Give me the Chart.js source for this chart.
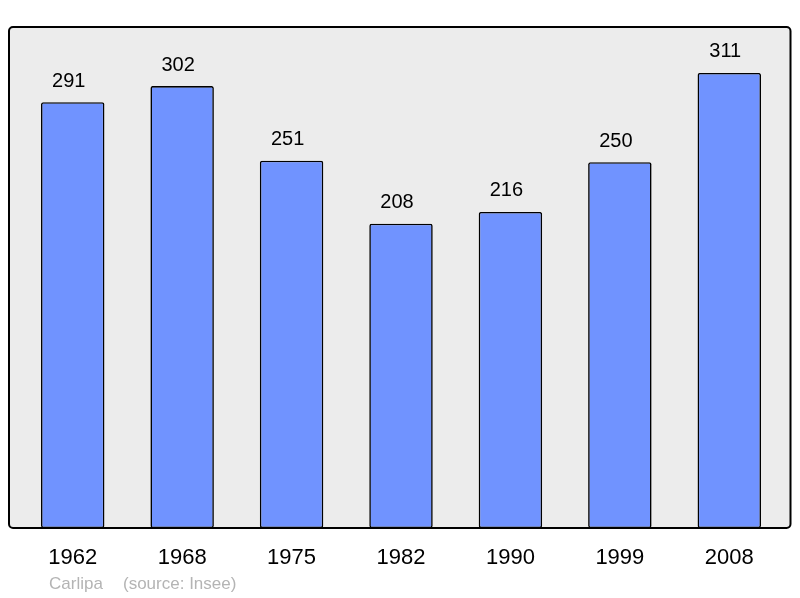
<!DOCTYPE html>
<html>
<head>
<meta charset="utf-8">
<script src="https://cdn.jsdelivr.net/npm/chart.js@4/dist/chart.umd.min.js"></script>
<style>
html,body{margin:0;padding:0;background:#fff;}
#wrap{width:800px;height:598px;position:relative;}
</style>
</head>
<body>
<div id="wrap"><canvas id="c" width="800" height="598"></canvas></div>
<script>
const years = ["1962","1968","1975","1982","1990","1999","2008"];
const population = [291,302,251,208,216,250,311];
const footerName = "Carlipa";
const footerSource = "(source: Insee)";

const frame = {
  id: 'frame',
  beforeDraw(chart) {
    const {ctx, chartArea: a} = chart;
    const l = a.left - 9, r = a.right + 6.5, t = a.top, b = a.bottom;
    ctx.save();
    ctx.beginPath();
    ctx.roundRect(l, t, r - l, b - t, 4);
    ctx.fillStyle = '#ececec';
    ctx.fill();
    ctx.restore();
  },
  afterDatasetsDraw(chart) {
    const {ctx, chartArea: a} = chart;
    const l = a.left - 9, r = a.right + 6.5, t = a.top, b = a.bottom;
    ctx.save();
    ctx.beginPath();
    ctx.roundRect(l, t, r - l, b - t, 4);
    ctx.lineWidth = 2;
    ctx.strokeStyle = '#000';
    ctx.stroke();
    // value labels
    const meta = chart.getDatasetMeta(0);
    ctx.fillStyle = '#000';
    ctx.font = '20px "Liberation Sans", Arial, sans-serif';
    ctx.textAlign = 'center';
    ctx.textBaseline = 'middle';
    meta.data.forEach((bar, i) => {
      ctx.fillText(String(population[i]), bar.x - 4, bar.y - 21);
    });
    // footer
    ctx.fillStyle = '#b4b4b4';
    ctx.font = '17px "Liberation Sans", Arial, sans-serif';
    ctx.textAlign = 'left';
    ctx.fillText(footerName, 49, 584);
    ctx.fillText(footerSource, 123, 584);
    ctx.restore();
  }
};

new Chart(document.getElementById('c'), {
  type: 'bar',
  data: {
    labels: years,
    datasets: [{
      data: population,
      backgroundColor: '#7093ff',
      borderColor: '#000',
      borderWidth: 1.6,
      borderRadius: 2,
      borderSkipped: false,
      barPercentage: 0.58,
      categoryPercentage: 1
    }]
  },
  options: {
    responsive: false,
    animation: false,
    devicePixelRatio: 1,
    layout: {padding: {left: 18, right: 16, top: 27, bottom: 0}},
    plugins: {legend: {display: false}, tooltip: {enabled: false}},
    scales: {
      y: {display: false, min: 0, max: 342.4},
      x: {
        grid: {display: false},
        border: {display: false},
        ticks: {color: '#000', font: {size: 22, family: '"Liberation Sans", Arial, sans-serif'}, padding: 9, maxRotation: 0},
        afterFit(scale) { scale.height = 70; }
      }
    }
  },
  plugins: [frame]
});
</script>
</body>
</html>
